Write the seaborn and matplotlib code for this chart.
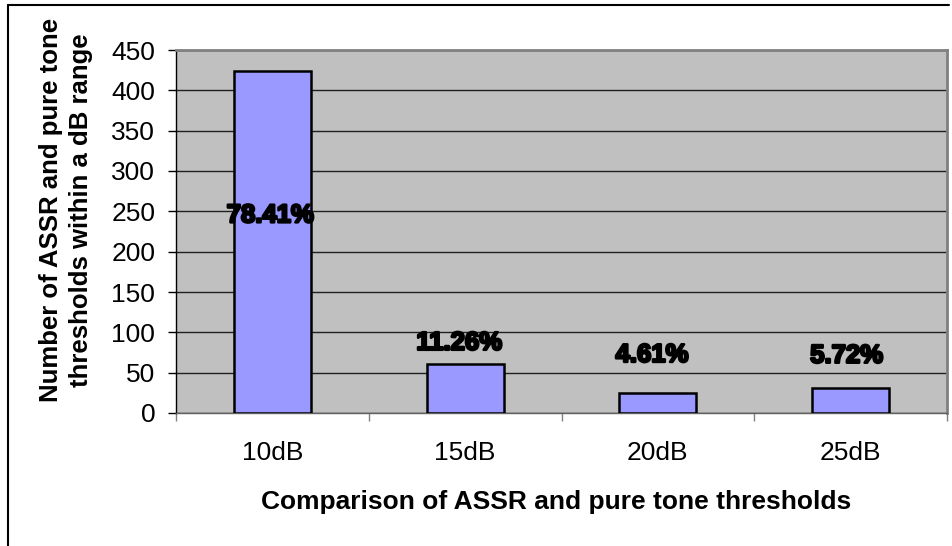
import matplotlib
matplotlib.use("Agg")
import matplotlib.pyplot as plt
import matplotlib.patheffects as pe
from matplotlib.lines import Line2D
from matplotlib.ticker import FixedLocator
import seaborn as sns
import pandas as pd

# Agreement between ASSR and pure tone thresholds
categories = ["10dB", "15dB", "20dB", "25dB"]
counts = [424, 61, 25, 31]
percent_labels = ["78.41%", "11.26%", "4.61%", "5.72%"]
y_ticks = [0, 50, 100, 150, 200, 250, 300, 350, 400, 450]

df = pd.DataFrame({"range": categories, "count": counts})

sns.set_theme(style="white")
plt.rcParams["font.family"] = ["Liberation Sans", "DejaVu Sans"]

fig = plt.figure(figsize=(9.52, 5.46), dpi=100)
ax = fig.add_axes([176 / 952, 1 - 413 / 546, (947 - 176) / 952, (413 - 50) / 546])
ax.set_facecolor("#C0C0C0")

sns.barplot(data=df, x="range", y="count", color="#9999FF", saturation=1,
            edgecolor="black", linewidth=1.8, width=0.4, ax=ax, zorder=3)

ax.set_xlim(-0.5, len(categories) - 0.5)
ax.set_ylim(0, 450)
ax.yaxis.set_major_locator(FixedLocator(y_ticks))
ax.set_yticklabels([str(v) for v in y_ticks])
ax.grid(axis="y", color="#202020", linewidth=1, zorder=1)
ax.set_axisbelow(True)

# category boundary ticks on the x axis
ax.xaxis.set_minor_locator(FixedLocator([i - 0.5 for i in range(len(categories) + 1)]))
ax.tick_params(axis="x", which="major", length=0, pad=20, labelsize=19, colors="black")
ax.tick_params(axis="x", which="minor", length=6, width=1, color="#808080", bottom=True)
ax.tick_params(axis="y", which="major", length=6, width=1, color="black", left=True,
               pad=9, labelsize=19, labelcolor="black")

for side in ["top", "right"]:
    ax.spines[side].set_color("#808080")
    ax.spines[side].set_linewidth(2)
ax.spines["left"].set_color("black")
ax.spines["left"].set_linewidth(1)
ax.spines["bottom"].set_color("#606060")
ax.spines["bottom"].set_linewidth(1)

ax.set_xlabel("")
ax.set_ylabel("")

# percentage labels
label_y = [245, 87, 72, 71]
label_dx = [-0.01, -0.03, -0.03, -0.02]
for i, (txt, yv) in enumerate(zip(percent_labels, label_y)):
    ax.text(i + label_dx[i], yv, txt, ha="center", va="center", fontsize=18.5,
            fontweight="bold", color="black", zorder=5,
            path_effects=[pe.withStroke(linewidth=1.8, foreground="black")])

fig.text(66 / 952, 1 - 210 / 546,
         "Number of ASSR and pure tone\nthresholds within a dB range",
         rotation=90, ha="center", va="center", multialignment="center",
         linespacing=1.3, fontsize=18.5, fontweight="bold", color="black")
fig.text(556 / 952, 1 - 502 / 546, "Comparison of ASSR and pure tone thresholds",
         ha="center", va="center", fontsize=19, fontweight="bold", color="black")

# chart frame
fig.add_artist(Line2D([8 / 952, 8 / 952], [0, 1 - 5 / 546], color="black", linewidth=1.5,
                      transform=fig.transFigure))
fig.add_artist(Line2D([8 / 952, 949 / 952], [1 - 5 / 546, 1 - 5 / 546], color="black",
                      linewidth=1.5, transform=fig.transFigure))

fig.savefig("out.png", dpi=100, facecolor="white")
